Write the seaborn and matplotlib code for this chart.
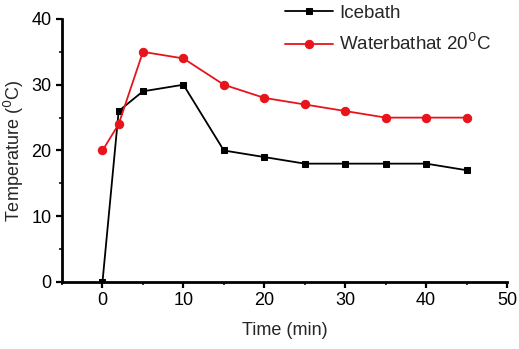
import pandas as pd
import matplotlib.pyplot as plt
import seaborn as sns
from matplotlib.ticker import MultipleLocator

# Temperature readings (deg C) over time (min)
time_min = [0, 2, 5, 10, 15, 20, 25, 30, 35, 40, 45]
icebath = [0, 26, 29, 30, 20, 19, 18, 18, 18, 18, 17]
waterbath = [20, 24, 35, 34, 30, 28, 27, 26, 25, 25, 25]

df = pd.DataFrame({'Time': time_min, 'Icebath': icebath, 'Waterbath': waterbath})

sns.set_style('ticks')
plt.rcParams['font.family'] = ['Liberation Sans', 'DejaVu Sans']

fig = plt.figure(figsize=(5.19, 3.49), dpi=100)
ax = fig.add_axes([0.1195, 0.192, 0.8575, 0.7536])

sns.lineplot(data=df, x='Time', y='Icebath', ax=ax, color='black', marker='s',
             markersize=5, markeredgecolor='black', linewidth=1.3, label='Icebath')
sns.lineplot(data=df, x='Time', y='Waterbath', ax=ax, color='#e8141c', marker='o',
             markersize=6, markeredgecolor='#e8141c', linewidth=1.3,
             label='Waterbathat 20$^{0}$C')

ax.set_xlim(-5, 50)
ax.set_ylim(0, 40)
ax.xaxis.set_major_locator(MultipleLocator(10))
ax.xaxis.set_minor_locator(MultipleLocator(5))
ax.yaxis.set_major_locator(MultipleLocator(10))
ax.yaxis.set_minor_locator(MultipleLocator(5))
ax.tick_params(which='major', direction='out', length=4, width=1.6, labelsize=13, colors='black')
ax.tick_params(which='minor', direction='out', length=2.5, width=1.3)
for s in ['left', 'bottom']:
    ax.spines[s].set_linewidth(2)
    ax.spines[s].set_color('black')
sns.despine(ax=ax)

ax.set_xlabel('Time (min)', fontsize=13, labelpad=9)
ax.set_ylabel('Temperature ($^{0}$C)', fontsize=13, labelpad=4)

ax.legend(loc='upper left', bbox_to_anchor=(0.50, 1.055), frameon=False,
          fontsize=13.5, handlelength=2.6, handletextpad=0.3,
          labelspacing=0.6, borderaxespad=0, borderpad=0)

fig.savefig('out.png', dpi=100)
